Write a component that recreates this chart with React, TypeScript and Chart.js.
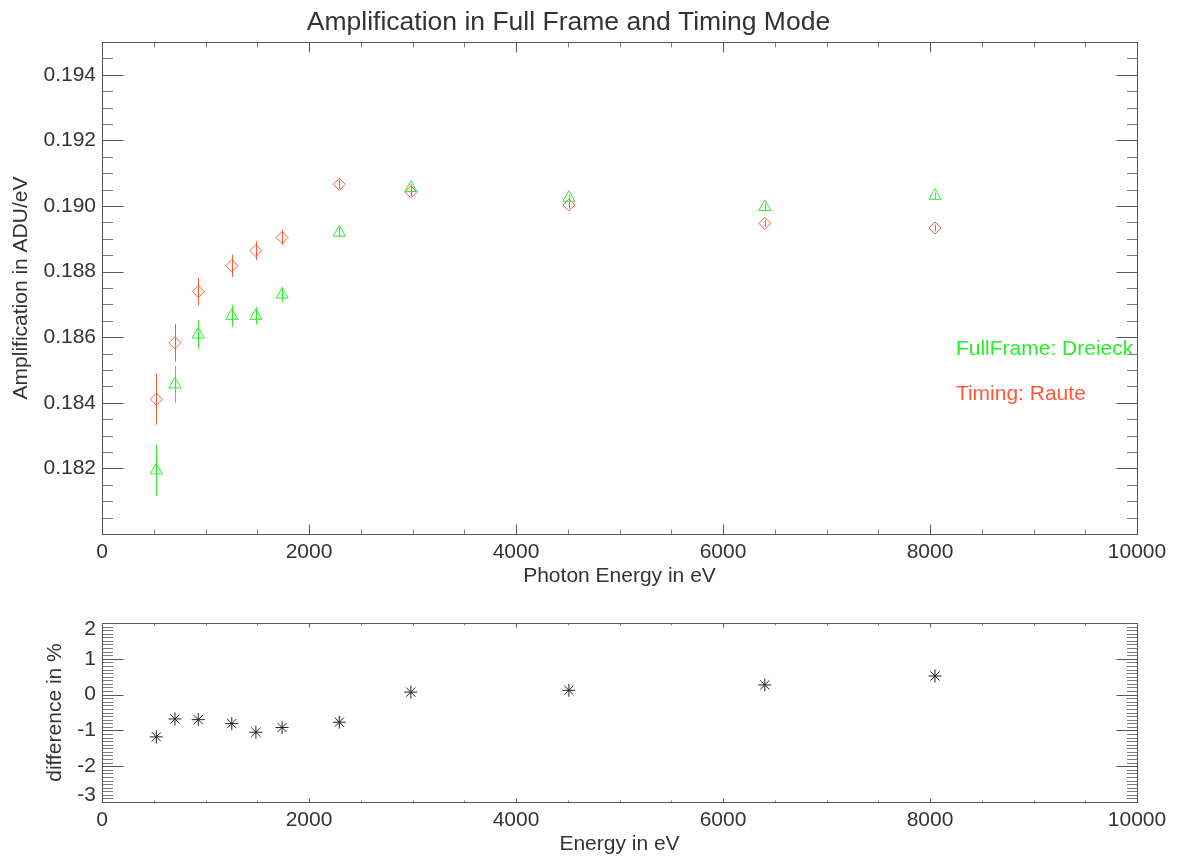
import React, { useEffect, useRef } from 'react';
import { Chart, registerables } from 'chart.js';

Chart.register(...registerables);

// ---------- data ----------
const energies = [525, 705, 930, 1254, 1487, 1740, 2293, 2984, 4511, 6404, 8048];
const fullFrameValues = [0.18194, 0.18456, 0.18608, 0.18665, 0.18665, 0.1873, 0.18919, 0.19055, 0.19025, 0.18997, 0.19031];
const fullFrameErrors = [0.00078, 0.00056, 0.00043, 0.00032, 0.00026, 0.00023, 0.00015, 0.00012, 0.0001, 0.0001, 0.0001];
const timingValues = [0.18411, 0.18583, 0.18739, 0.18818, 0.18864, 0.18904, 0.19066, 0.19043, 0.19003, 0.18947, 0.18933];
const timingErrors = [0.00078, 0.00058, 0.00042, 0.00034, 0.00028, 0.00023, 0.00014, 0.00013, 0.00011, 0.0001, 0.0001];
const differenceValues = [-1.18, -0.68, -0.7, -0.81, -1.05, -0.92, -0.77, 0.07, 0.12, 0.27, 0.52];

const xTickLabels = ['0', '2000', '4000', '6000', '8000', '10000'];
const ampTickLabels = ['0.182', '0.184', '0.186', '0.188', '0.190', '0.192', '0.194'];
const diffTickLabels = ['-3', '-2', '-1', '0', '1', '2'];
const seriesNotes = ['FullFrame: Dreieck', 'Timing: Raute'];

// ---------- styling ----------
const FONT = "'Liberation Sans', Arial, Helvetica, sans-serif";
const TEXT = '#333333';
const GREEN = 'rgb(40,240,40)';
const RED = 'rgb(255,88,55)';
const FRAME = '#555555';
const MINOR = '#7a7a7a';

const steps = (min: number, max: number, step: number) => {
  const out: number[] = [];
  const n = Math.round((max - min) / step);
  for (let i = 0; i <= n; i++) out.push(min + i * step);
  return out;
};

const framePlugin = {
  id: 'idlFrame',
  beforeDraw(chart: any, _args: any, opts: any) {
    // IDL nudges the end labels of a short axis inwards
    const shift = opts.yEdgeShift || 0;
    if (!shift) return;
    const ys = chart.scales.y;
    const items = ys.getLabelItems();
    if (items && items.length > 1 && !ys.$edgeShifted) {
      items[0].options.translation[1] -= shift;
      items[items.length - 1].options.translation[1] += shift;
      ys.$edgeShifted = true;
    }
  },
  afterDraw(chart: any, _args: any, opts: any) {
    const { ctx, chartArea: a, scales } = chart;
    const xs = scales.x;
    const ys = scales.y;
    const snap = (v: number) => Math.round(v) + 0.5;
    ctx.save();
    ctx.lineWidth = 1;
    const L = snap(a.left), R = snap(a.right), T = snap(a.top), B = snap(a.bottom);
    const line = (x1: number, y1: number, x2: number, y2: number) => {
      ctx.beginPath();
      ctx.moveTo(x1, y1);
      ctx.lineTo(x2, y2);
      ctx.stroke();
    };
    // minor ticks
    ctx.strokeStyle = MINOR;
    steps(xs.min, xs.max, opts.xMinorStep).forEach((v) => {
      const x = snap(xs.getPixelForValue(v));
      line(x, B, x, B - opts.xMinorLen);
      line(x, T, x, T + opts.xMinorLen);
    });
    steps(ys.min, ys.max, opts.yMinorStep).forEach((v) => {
      const y = snap(ys.getPixelForValue(v));
      line(L, y, L + opts.yMinorLen, y);
      line(R, y, R - opts.yMinorLen, y);
    });
    // major ticks
    ctx.strokeStyle = FRAME;
    xs.ticks.forEach((t: any) => {
      const x = snap(xs.getPixelForValue(t.value));
      line(x, B, x, B - opts.xMajorLen);
      line(x, T, x, T + opts.xMajorLen);
    });
    ys.ticks.forEach((t: any) => {
      const y = snap(ys.getPixelForValue(t.value));
      line(L, y, L + opts.yMajorLen, y);
      line(R, y, R - opts.yMajorLen, y);
    });
    ctx.strokeRect(L, T, R - L, B - T);
    ctx.restore();
  },
};

const errorBarsPlugin = {
  id: 'errorBars',
  beforeDatasetsDraw(chart: any, _args: any, opts: any) {
    const { ctx } = chart;
    const xs = chart.scales.x;
    const ys = chart.scales.y;
    const sets = opts.sets || [];
    ctx.save();
    ctx.lineWidth = 1;
    for (let s = 0; s < sets.length; s++) {
      const set = sets[s];
      const ds = chart.data.datasets[set.datasetIndex];
      ctx.strokeStyle = set.color;
      ds.data.forEach((p: any, i: number) => {
        const e = set.errors[i];
        const x = Math.round(xs.getPixelForValue(p.x)) + 0.5;
        ctx.beginPath();
        ctx.moveTo(x, ys.getPixelForValue(p.y - e));
        ctx.lineTo(x, ys.getPixelForValue(p.y + e));
        ctx.stroke();
      });
    }
    ctx.restore();
  },
};

const notesPlugin = {
  id: 'seriesNotes',
  afterDatasetsDraw(chart: any, _args: any, opts: any) {
    const { ctx } = chart;
    const xs = chart.scales.x;
    const ys = chart.scales.y;
    const items = opts.items || [];
    ctx.save();
    ctx.font = `21px ${FONT}`;
    ctx.textAlign = 'left';
    ctx.textBaseline = 'alphabetic';
    for (let i = 0; i < items.length; i++) {
      const it = items[i];
      ctx.fillStyle = it.color;
      ctx.fillText(it.text, xs.getPixelForValue(it.x), ys.getPixelForValue(it.y));
    }
    ctx.restore();
  },
};

const tickFont = { family: FONT, size: 21, lineHeight: 1.2 };

function xScale(height: number, title: string, labelPad: number, titlePadBottom: number) {
  return {
    type: 'linear',
    min: 0,
    max: 10000,
    afterBuildTicks: (s: any) => {
      s.ticks = xTickLabels.map((t) => ({ value: Number(t) }));
    },
    afterFit: (s: any) => {
      s.height = height;
    },
    ticks: {
      autoSkip: false,
      maxRotation: 0,
      minRotation: 0,
      color: TEXT,
      font: tickFont,
      padding: labelPad,
      callback: (_v: any, i: number) => xTickLabels[i],
    },
    grid: { display: false, drawTicks: false },
    border: { display: false },
    title: {
      display: true,
      text: title,
      color: TEXT,
      font: { family: FONT, size: 21, lineHeight: 1.2 },
      padding: { top: 0, bottom: titlePadBottom },
    },
  };
}

function yScale(min: number, max: number, labels: string[], title: string, titlePadTop: number) {
  return {
    type: 'linear',
    min,
    max,
    afterBuildTicks: (s: any) => {
      s.ticks = labels.map((t) => ({ value: Number(t) }));
    },
    afterFit: (s: any) => {
      s.width = 102;
    },
    ticks: {
      autoSkip: false,
      color: TEXT,
      font: tickFont,
      padding: 6,
      callback: (_v: any, i: number) => labels[i],
    },
    grid: { display: false, drawTicks: false },
    border: { display: false },
    title: {
      display: true,
      text: title,
      color: TEXT,
      font: { family: FONT, size: 21, lineHeight: 1.2 },
      padding: { top: titlePadTop, bottom: 0 },
    },
  };
}

function topConfig(): any {
  return {
    type: 'scatter',
    data: {
      datasets: [
        {
          label: 'FullFrame',
          data: energies.map((e, i) => ({ x: e, y: fullFrameValues[i] })),
          pointStyle: 'triangle',
          pointRadius: 7,
          pointBorderWidth: 1,
          borderColor: GREEN,
          backgroundColor: 'rgba(0,0,0,0)',
          showLine: false,
        },
        {
          label: 'Timing',
          data: energies.map((e, i) => ({ x: e, y: timingValues[i] })),
          pointStyle: 'rectRot',
          pointRadius: 6,
          pointBorderWidth: 1,
          borderColor: RED,
          backgroundColor: 'rgba(0,0,0,0)',
          showLine: false,
        },
      ],
    },
    options: {
      animation: false,
      responsive: false,
      devicePixelRatio: 1,
      events: [],
      layout: { padding: { left: 0, right: 42, top: 0, bottom: 0 } },
      plugins: {
        legend: { display: false },
        tooltip: { enabled: false },
        title: {
          display: true,
          text: 'Amplification in Full Frame and Timing Mode',
          color: TEXT,
          font: { family: FONT, size: 26.5, weight: 'normal', lineHeight: 1.2 },
          padding: { top: 6.5, bottom: 3.7 },
        },
        errorBars: {
          sets: [
            { datasetIndex: 0, errors: fullFrameErrors, color: GREEN },
            { datasetIndex: 1, errors: timingErrors, color: RED },
          ],
        },
        idlFrame: {
          xMinorStep: 500,
          yMinorStep: 0.0005,
          xMajorLen: 10,
          xMinorLen: 5,
          yMajorLen: 21,
          yMinorLen: 10.5,
          yEdgeShift: 0,
        },
        seriesNotes: {
          items: [
            { text: seriesNotes[0], x: 8250, y: 0.18546, color: GREEN },
            { text: seriesNotes[1], x: 8250, y: 0.18409, color: RED },
          ],
        },
      },
      scales: {
        x: xScale(66, 'Photon Energy in eV', 6, 11.4),
        y: yScale(0.18, 0.195, ampTickLabels, 'Amplification in ADU/eV', 8.4),
      },
    },
    plugins: [errorBarsPlugin, framePlugin, notesPlugin],
  };
}

function bottomConfig(): any {
  return {
    type: 'scatter',
    data: {
      datasets: [
        {
          label: 'difference',
          data: energies.map((e, i) => ({ x: e, y: differenceValues[i] })),
          pointStyle: 'star',
          pointRadius: 6.5,
          pointBorderWidth: 1,
          borderColor: '#222222',
          backgroundColor: 'rgba(0,0,0,0)',
          showLine: false,
        },
      ],
    },
    options: {
      animation: false,
      responsive: false,
      devicePixelRatio: 1,
      events: [],
      layout: { padding: { left: 0, right: 42, top: 23, bottom: 0 } },
      plugins: {
        legend: { display: false },
        tooltip: { enabled: false },
        title: { display: false },
        idlFrame: {
          xMinorStep: 500,
          yMinorStep: 0.1,
          xMajorLen: 4,
          xMinorLen: 2,
          yMajorLen: 21,
          yMinorLen: 10.5,
          yEdgeShift: 6.5,
        },
      },
      scales: {
        x: xScale(54, 'Energy in eV', 6, -1),
        y: yScale(-3, 2, diffTickLabels, 'difference in %', 42.4),
      },
    },
    plugins: [framePlugin],
  };
}

export default function App() {
  const topRef = useRef<HTMLCanvasElement>(null);
  const bottomRef = useRef<HTMLCanvasElement>(null);

  useEffect(() => {
    const c1 = new Chart(topRef.current as HTMLCanvasElement, topConfig());
    const c2 = new Chart(bottomRef.current as HTMLCanvasElement, bottomConfig());
    return () => {
      c1.destroy();
      c2.destroy();
    };
  }, []);

  return (
    <div
      style={{
        position: 'absolute',
        left: 0,
        top: 0,
        width: 1179,
        height: 856,
        background: '#ffffff',
        overflow: 'hidden',
      }}
    >
      <canvas ref={topRef} width={1179} height={600} style={{ position: 'absolute', left: 0, top: 0 }} />
      <canvas ref={bottomRef} width={1179} height={256} style={{ position: 'absolute', left: 0, top: 600 }} />
    </div>
  );
}
